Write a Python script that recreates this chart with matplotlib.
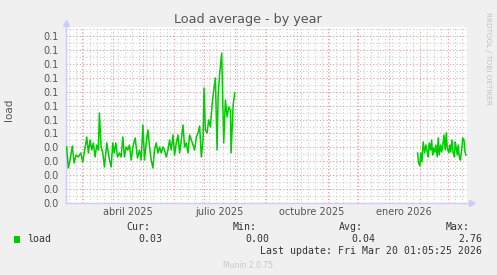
import matplotlib
matplotlib.use("Agg")
import matplotlib.pyplot as plt
import matplotlib.dates as mdates
from matplotlib.ticker import FixedLocator, NullFormatter
from datetime import datetime, timedelta

# ---------------- data ----------------
end_time = datetime(2026, 3, 20, 1, 5, 25)
period_days = 400
start_time = end_time - timedelta(days=period_days)

# segment 1 (days since start, load)
seg1_days = [0.7, 2.3, 4.0, 6.3, 8.0, 10.0, 12.3, 14.7, 16.7, 19.0,
             20.7, 22.3, 24.0, 25.7, 27.3, 29.0, 30.7, 32.3, 33.3, 35.0,
             36.7, 38.3, 40.7, 43.0, 45.0, 46.7, 48.0, 49.7, 51.3, 53.3,
             55.0, 56.7, 58.3, 60.0, 61.7, 63.3, 65.0, 66.7, 69.0, 71.3,
             73.3, 75.0, 76.7, 78.3, 80.0, 81.7, 83.3, 85.0, 86.7, 88.3,
             90.0, 91.7, 93.3, 95.0, 96.7, 98.3, 100.0, 101.7, 103.3, 105.0,
             106.7, 108.3, 110.0, 111.7, 113.3, 115.0, 116.7, 118.3, 120.0, 121.7,
             123.3, 125.0, 126.7, 128.3, 130.0, 131.7, 133.3, 135.0, 136.7, 137.7,
             139.0, 140.7, 142.3, 144.0, 145.7, 147.3, 149.0, 150.7, 151.7, 153.3,
             155.3, 157.3, 159.0, 160.7, 162.3, 164.0, 164.7, 166.7, 168.3]
seg1_load = [0.0403, 0.0252, 0.0309, 0.0410, 0.0288, 0.0345, 0.0331, 0.0360, 0.0295, 0.0396,
             0.0475, 0.0360, 0.0453, 0.0381, 0.0432, 0.0331, 0.0417, 0.0381, 0.0647, 0.0403,
             0.0360, 0.0259, 0.0432, 0.0324, 0.0259, 0.0432, 0.0360, 0.0432, 0.0331, 0.0360,
             0.0331, 0.0475, 0.0331, 0.0403, 0.0381, 0.0417, 0.0309, 0.0403, 0.0468, 0.0324,
             0.0381, 0.0309, 0.0561, 0.0309, 0.0432, 0.0525, 0.0403, 0.0309, 0.0252, 0.0381,
             0.0432, 0.0360, 0.0403, 0.0360, 0.0403, 0.0381, 0.0331, 0.0381, 0.0453, 0.0381,
             0.0489, 0.0345, 0.0432, 0.0489, 0.0360, 0.0453, 0.0561, 0.0403, 0.0432, 0.0360,
             0.0489, 0.0453, 0.0417, 0.0381, 0.0475, 0.0504, 0.0554, 0.0331, 0.0453, 0.0827,
             0.0525, 0.0504, 0.0597, 0.0547, 0.0705, 0.0813, 0.0899, 0.0381, 0.0763, 0.0935,
             0.1079, 0.0432, 0.0741, 0.0619, 0.0691, 0.0669, 0.0360, 0.0705, 0.0791]

# segment 2
seg2_days = [350.7, 351.7, 353.0, 354.0, 355.0, 356.3, 357.7, 359.0, 360.3, 361.3,
             362.3, 363.7, 364.7, 365.7, 366.7, 368.0, 369.0, 370.3, 371.3, 372.3,
             373.7, 374.7, 375.7, 377.0, 378.3, 379.3, 380.3, 381.7, 382.7, 383.7,
             385.0, 386.0, 387.3, 388.3, 389.3, 390.3, 391.3, 392.3, 393.3, 394.7,
             395.7, 397.0, 398.0, 399.0]
seg2_load = [0.0360, 0.0288, 0.0266, 0.0360, 0.0295, 0.0439, 0.0360, 0.0417, 0.0367, 0.0331,
             0.0432, 0.0381, 0.0453, 0.0345, 0.0396, 0.0367, 0.0417, 0.0331, 0.0468, 0.0345,
             0.0417, 0.0367, 0.0403, 0.0489, 0.0381, 0.0504, 0.0396, 0.0360, 0.0417, 0.0367,
             0.0453, 0.0367, 0.0331, 0.0439, 0.0396, 0.0345, 0.0417, 0.0331, 0.0309, 0.0381,
             0.0468, 0.0453, 0.0367, 0.0345]

ytick_values = [0.00, 0.01, 0.02, 0.03, 0.04, 0.05, 0.06, 0.07, 0.08, 0.09, 0.10, 0.11, 0.12]
ytick_labels = ["0.0", "0.0", "0.0", "0.0", "0.0", "0.1", "0.1", "0.1", "0.1", "0.1", "0.1", "0.1", "0.1"]
xlabel_dates = [datetime(2025, 4, 16), datetime(2025, 7, 16), datetime(2025, 10, 16), datetime(2026, 1, 16)]
xlabel_texts = ["abril 2025", "julio 2025", "octubre 2025", "enero 2026"]

legend_name = "load"
stat_names = ["Cur:", "Min:", "Avg:", "Max:"]
stat_values = ["0.03", "0.00", "0.04", "2.76"]
last_update = "Last update: Fri Mar 20 01:05:25 2026"

# ---------------- figure ----------------
W, H = 497, 275
fig = plt.figure(figsize=(W / 100, H / 100), dpi=100, facecolor="#F0F0F0")
ax = fig.add_axes([66 / W, 1 - 203 / H, 401 / W, 176 / H])
ax.set_facecolor("white")

t0 = mdates.date2num(start_time)
x1 = [t0 + d for d in seg1_days]
x2 = [t0 + d for d in seg2_days]
line_kw = dict(color="#00CC00", lw=1.1, solid_joinstyle="round", zorder=5)
ax.plot(x1, seg1_load, **line_kw)
ax.plot(x2, seg2_load, **line_kw)

ax.set_xlim(t0, mdates.date2num(end_time))
ax.set_ylim(0, 0.1266)

# grids
ax.xaxis.set_major_locator(mdates.MonthLocator())
ax.xaxis.set_minor_locator(mdates.WeekdayLocator(byweekday=mdates.SU))
ax.xaxis.set_major_formatter(NullFormatter())
ax.yaxis.set_major_locator(FixedLocator(ytick_values))
ax.set_yticks(ytick_values)
ax.set_yticklabels(ytick_labels)
ax.yaxis.set_minor_locator(FixedLocator([v + 0.005 for v in ytick_values]))

dot = (0, (1, 2))
ax.grid(True, which="minor", color="#CCCCCC", lw=0.8, ls=dot, zorder=1)
ax.grid(True, which="major", color="#E29A9A", lw=0.8, ls=dot, zorder=2)
ax.set_axisbelow(True)

ax.tick_params(axis="both", which="both", length=0)
ax.tick_params(axis="y", labelsize=7, labelcolor="#555555", pad=5)

for s in ["top", "right"]:
    ax.spines[s].set_visible(False)
for s in ["left", "bottom"]:
    ax.spines[s].set_color("#CCCCFF")
    ax.spines[s].set_linewidth(1.0)

# arrows
ax.plot([1.012], [0], marker=">", color="#CCCCFF", ms=5, transform=ax.transAxes, clip_on=False, zorder=6)
ax.plot([0], [1.025], marker="^", color="#CCCCFF", ms=5, transform=ax.transAxes, clip_on=False, zorder=6)

# x labels (centered mid-month)
sec = ax.secondary_xaxis("bottom")
sec.set_xticks([mdates.date2num(d) for d in xlabel_dates])
sec.set_xticklabels(xlabel_texts)
sec.tick_params(length=0, labelsize=7, labelcolor="#555555", pad=3)
sec.spines["bottom"].set_visible(False)

# title / labels
fig.text(248 / W, 1 - 19 / H, "Load average - by year", ha="center", va="center",
         fontsize=9.2, color="#555555")
fig.text(9 / W, 1 - 110 / H, "load", rotation=90, ha="center", va="center",
         fontsize=7.5, color="#555555")
fig.text(488 / W, 1 - 58 / H, "RRDTOOL / TOBI OETIKER", rotation=270, ha="center", va="center",
         fontsize=5.2, color="#C0C0C0")

mono = "DejaVu Sans Mono"
tc = "#333333"
fig.patches.append(plt.Rectangle((14 / W, 1 - 243 / H), 6 / W, 7 / H, transform=fig.transFigure,
                                 facecolor="#00CC00", edgecolor="none"))
fig.text(27 / W, 1 - 239 / H, legend_name, family=mono, fontsize=7.1, color=tc, va="center")
name_x = [150, 257, 363, 470]
val_x = [162, 269, 375, 482]
for nx, vx, n, v in zip(name_x, val_x, stat_names, stat_values):
    fig.text(nx / W, 1 - 227 / H, n, family=mono, fontsize=7.1, color=tc, ha="right", va="center")
    fig.text(vx / W, 1 - 239 / H, v, family=mono, fontsize=7.1, color=tc, ha="right", va="center")
fig.text(482 / W, 1 - 251 / H, last_update, family=mono, fontsize=7.1, color=tc, ha="right", va="center")
fig.text(248 / W, 1 - 265 / H, "Munin 2.0.75", ha="center", va="center", fontsize=5.5, color="#C8C8C8")

fig.savefig("out.png", dpi=100, facecolor=fig.get_facecolor())
